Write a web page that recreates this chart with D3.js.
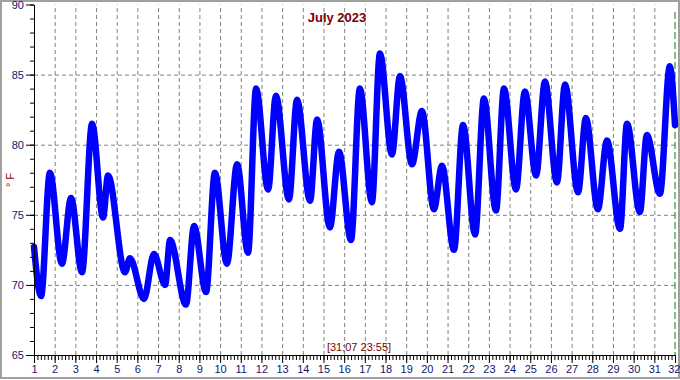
<!DOCTYPE html>
<html><head><meta charset="utf-8">
<script src="https://cdn.jsdelivr.net/npm/d3@7"></script>
<style>
html,body{margin:0;padding:0;background:#fff;}
svg{display:block;}
text{font-family:"Liberation Sans",Arial,sans-serif;}
</style></head>
<body><svg id="c" width="680" height="380"></svg>
<script>
// time of reading, in days of July (1 = July 1 00:00)
const times = [1.00,1.34,1.77,2.35,2.79,3.32,3.81,4.34,4.58,5.40,5.64,6.32,6.80,7.34,7.58,8.35,8.74,9.32,9.75,10.33,10.82,11.35,11.74,12.32,12.70,13.33,13.72,14.35,14.69,15.31,15.75,16.33,16.76,17.34,17.73,18.31,18.70,19.28,19.76,20.34,20.73,21.31,21.75,22.33,22.76,23.34,23.73,24.31,24.74,25.28,25.71,26.29,26.68,27.31,27.69,28.27,28.71,29.34,29.68,30.30,30.64,31.27,31.75,32.00];
// temperature in °F
const temps = [72.7,69.2,78.0,71.5,76.2,70.9,81.5,74.8,77.8,70.9,71.9,69.0,72.2,70.0,73.2,68.6,74.2,69.5,78.0,71.5,78.6,72.3,84.0,76.8,83.5,76.1,83.2,76.0,81.8,74.1,79.5,73.2,84.0,75.9,86.5,79.3,84.9,78.6,82.4,75.4,78.5,72.5,81.4,73.6,83.3,75.3,84.0,76.8,83.8,77.8,84.5,77.3,84.3,76.6,81.9,75.4,80.3,74.0,81.5,75.2,80.7,76.5,85.6,81.4];
const xTicks = d3.range(1, 33);          // day labels 1..32
const yTicks = [65, 70, 75, 80, 85, 90];
const title = "July 2023";
const yLabel = "° F";
const stamp = "[31;07 23:55]";

const svg = d3.select("#c");
const x = d3.scaleLinear().domain([1, 32]).range([34, 675]);
const y = d3.scaleLinear().domain([65, 90]).range([355, 4.5]);

// outer frame
svg.append("rect").attr("x", 1).attr("y", 1).attr("width", 678).attr("height", 377)
  .attr("fill", "none").attr("stroke", "#a0a0a0").attr("stroke-width", 2);

// vertical grid
svg.append("g").attr("transform", "translate(0,355)")
  .call(d3.axisBottom(x).tickValues(xTicks.filter(d => d > 1 && d < 32)).tickSize(-(355 - 4.5)).tickFormat(""))
  .call(g => g.select(".domain").remove())
  .call(g => g.selectAll("line").attr("stroke", "#808080").attr("stroke-dasharray", "4,3"));
// horizontal grid
svg.append("g").attr("transform", "translate(34,0)")
  .call(d3.axisRight(y).tickValues(yTicks.filter(d => d > 65 && d < 90)).tickSize(675 - 34).tickFormat(""))
  .call(g => g.select(".domain").remove())
  .call(g => g.selectAll("line").attr("stroke", "#808080").attr("stroke-dasharray", "4,3"));

// current-time marker
svg.append("line").attr("x1", x(32)).attr("x2", x(32)).attr("y1", 12).attr("y2", 355)
  .attr("stroke", "#008000").attr("stroke-dasharray", "7,3").attr("stroke-width", 1);

// data line
const line = d3.line().x((d, i) => x(times[i])).y(d => y(d)).curve(d3.curveMonotoneX);
svg.append("path").datum(temps).attr("d", line)
  .attr("fill", "none").attr("stroke", "#0000ff").attr("stroke-width", 6.5)
  .attr("stroke-linejoin", "round").attr("stroke-linecap", "round");

// y axis minor ticks
svg.append("g").attr("transform", "translate(34,0)")
  .call(d3.axisLeft(y).tickValues(d3.range(65, 91)).tickSize(4).tickFormat(""))
  .call(g => g.select(".domain").remove())
  .call(g => g.selectAll("line").attr("stroke", "#000"));
// y axis major
svg.append("g").attr("transform", "translate(34,0)")
  .call(d3.axisLeft(y).tickValues(yTicks).tickSize(8).tickPadding(2).tickSizeOuter(0))
  .call(g => g.select(".domain").attr("stroke", "#000"))
  .call(g => g.selectAll("line").attr("stroke", "#000"))
  .call(g => g.selectAll("text").attr("fill", "#141470").attr("font-size", 11));

// x axis minor ticks (every 4 h)
svg.append("g").attr("transform", "translate(0,355)")
  .call(d3.axisBottom(x).tickValues(d3.range(0, 31 * 6 + 1).map(k => 1 + k / 6)).tickSize(5).tickFormat(""))
  .call(g => g.select(".domain").remove())
  .call(g => g.selectAll("line").attr("stroke", "#000"));
// x axis major
svg.append("g").attr("transform", "translate(0,355)")
  .call(d3.axisBottom(x).tickValues(xTicks).tickSize(8).tickPadding(2).tickSizeOuter(0).tickFormat(d3.format("d")))
  .call(g => g.select(".domain").attr("stroke", "#000"))
  .call(g => g.selectAll("line").attr("stroke", "#000"))
  .call(g => g.selectAll("text").attr("fill", "#141470").attr("font-size", 11))
  .call(g => g.selectAll("text").filter(d => d === 32).attr("text-anchor", "end").attr("dx", "0.45em"));

// title
svg.append("text").attr("x", 337).attr("y", 22).attr("text-anchor", "middle")
  .attr("fill", "#800000").attr("font-weight", "bold").attr("font-size", 13).text(title);
// y label
svg.append("text").attr("transform", "translate(14,180) rotate(-90)").attr("text-anchor", "middle")
  .attr("fill", "#800000").attr("font-size", 11).text(yLabel);
// time stamp
svg.append("text").attr("x", 359).attr("y", 351).attr("text-anchor", "middle")
  .attr("fill", "#800000").attr("font-size", 11).text(stamp);
</script></body></html>
